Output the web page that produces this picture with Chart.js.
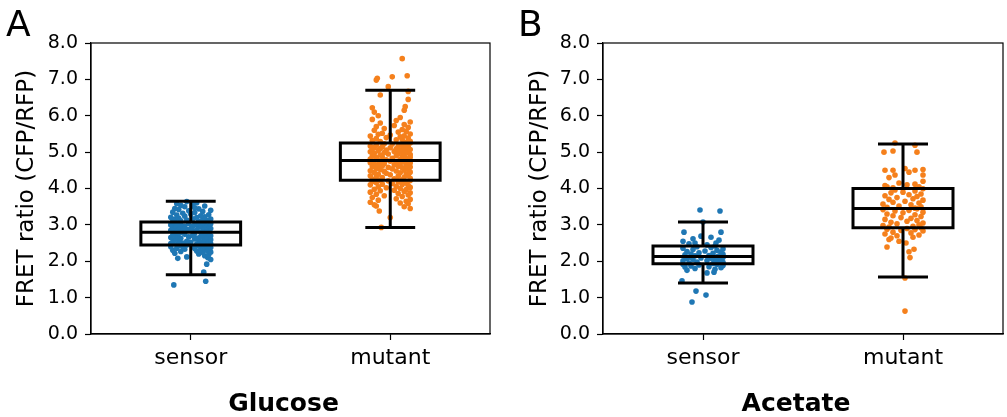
<!DOCTYPE html>
<html><head><meta charset="utf-8">
<script src="https://cdn.jsdelivr.net/npm/chart.js@4"></script>
<style>
html,body{margin:0;padding:0;background:#fff;}
body{width:1007px;height:417px;position:relative;overflow:hidden;}
canvas{position:absolute;top:0;}
#ca{left:0;} #cb{left:500px;}
</style></head>
<body>
<canvas id="ca" width="500" height="417"></canvas>
<canvas id="cb" width="507" height="417"></canvas>
<script>
// ---- data ----
const categories = ['sensor', 'mutant'];
const yTicks = [0,1,2,3,4,5,6,7,8];

// box stats: [lower whisker, Q1, median, Q3, upper whisker]
const glucoseSensorBox = [1.63, 2.45, 2.80, 3.08, 3.65];
const glucoseMutantBox = [2.93, 4.23, 4.77, 5.25, 6.70];
const acetateSensorBox = [1.40, 1.93, 2.13, 2.42, 3.08];
const acetateMutantBox = [1.57, 2.92, 3.45, 4.00, 5.22];

const glucoseSensorY = [1.35,1.45,1.7,1.92,2.08,2.1,2.05,2.12,2.15,2.18,2.2,2.22,2.24,2.25,2.27,2.28,2.3,2.3,2.32,2.33,2.34,2.35,2.36,2.37,2.38,2.39,2.4,2.4,2.41,2.42,2.43,2.43,2.44,2.45,2.45,
2.46,2.47,2.48,2.49,2.5,2.5,2.51,2.52,2.53,2.54,2.55,2.56,2.57,2.58,2.59,2.6,2.61,2.62,2.63,2.64,2.65,2.66,2.67,2.68,2.69,2.7,2.71,2.72,2.73,2.74,2.75,2.76,2.77,2.78,2.79,
2.8,2.81,2.82,2.82,2.83,2.84,2.85,2.86,2.87,2.88,2.89,2.9,2.9,2.91,2.92,2.93,2.94,2.95,2.95,2.96,2.97,2.98,2.98,2.99,3.0,3.0,3.01,3.02,3.03,3.04,3.04,3.05,3.06,3.07,3.08,
3.09,3.1,3.11,3.12,3.13,3.14,3.15,3.16,3.17,3.18,3.2,3.21,3.22,3.24,3.25,3.27,3.28,3.3,3.32,3.34,3.35,3.37,3.39,3.4,3.42,3.44,3.45,3.47,3.5,3.52,3.54,3.56,3.58,3.61,3.64];
const glucoseSensorJitter = [-0.085,0.075,0.065,0.08,-0.065,0.085,0.1,-0.02,0.07,0.09,0.04,-0.08,0.06,0.1,-0.05,0.03,0.08,-0.09,0.05,-0.03,0.09,0.02,-0.07,0.06,0.1,-0.04,0.07,-0.1,0.01,0.08,-0.06,0.04,0.09,-0.02,0.06,
-0.07,0.03,0.1,-0.1,0.05,-0.04,0.08,0.0,-0.09,0.06,-0.02,0.09,-0.06,0.04,0.1,-0.08,0.02,0.07,-0.05,0.03,-0.1,0.08,-0.01,0.05,-0.07,0.1,0.01,-0.09,0.06,-0.03,0.09,-0.06,0.02,0.07,-0.04,
0.05,-0.08,0.02,0.09,-0.05,0.07,-0.1,0.03,-0.02,0.08,-0.07,0.1,0.0,-0.04,0.06,-0.09,0.04,0.08,-0.06,0.01,-0.03,0.09,-0.08,0.05,0.02,-0.1,0.07,-0.05,0.1,-0.01,0.03,-0.07,0.06,-0.09,0.04,
-0.09,0.04,-0.05,0.08,-0.02,0.06,-0.08,0.1,0.01,-0.06,0.03,-0.1,0.07,-0.03,0.05,-0.07,0.09,0.0,-0.04,0.02,-0.09,0.06,-0.01,0.1,-0.06,0.04,-0.08,0.02,-0.03,0.07,-0.05,0.01,-0.07,0.03,-0.02];

const glucoseMutantY = [2.93,3.2,3.38,3.45,3.5,3.55,3.58,3.6,3.62,3.65,3.68,3.7,3.72,3.75,3.78,3.8,3.82,3.84,3.86,3.88,3.9,3.92,3.94,3.95,3.97,3.98,4.0,4.02,4.03,4.05,4.06,4.08,4.1,4.11,4.12,4.14,4.15,4.16,4.18,4.19,4.2,4.21,4.22,4.23,3.52,
4.24,4.25,4.27,4.28,4.3,4.31,4.32,4.34,4.35,4.36,4.38,4.39,4.4,4.42,4.43,4.44,4.45,4.47,4.48,4.49,4.5,4.52,4.53,4.54,4.55,4.57,4.58,4.59,4.6,4.61,4.62,4.63,4.64,4.65,4.66,4.67,4.68,4.69,4.7,4.71,4.72,4.73,4.74,4.75,4.76,
4.77,4.78,4.79,4.8,4.81,4.82,4.83,4.85,4.86,4.87,4.88,4.89,4.9,4.91,4.92,4.93,4.95,4.96,4.97,4.98,4.99,5.0,5.01,5.02,5.03,5.04,5.05,5.06,5.07,5.08,5.09,5.1,5.11,5.12,5.13,5.14,5.15,5.16,5.17,5.18,5.19,5.2,5.22,5.23,5.25,
5.27,5.29,5.3,5.32,5.34,5.35,5.37,5.39,5.4,5.42,5.44,5.45,5.47,5.49,5.5,5.52,5.55,5.57,5.6,5.62,5.65,5.68,5.7,5.73,5.76,5.8,5.83,5.87,5.9,5.95,6.0,
6.1,6.15,6.22,6.25,6.45,6.57,6.67,6.8,6.98,7.03,7.07,7.1,7.57];
const glucoseMutantJitter = [-0.045,0.0,-0.055,0.1,0.07,-0.08,0.09,0.05,-0.1,0.08,-0.06,0.1,0.03,-0.09,0.06,-0.03,0.09,-0.07,0.04,0.1,-0.1,0.07,-0.05,0.02,0.08,-0.08,0.05,-0.02,0.1,-0.06,0.03,0.09,-0.1,0.06,-0.04,0.01,0.08,-0.07,0.04,-0.09,0.07,-0.01,0.1,-0.05,-0.07,
0.06,-0.09,0.02,0.1,-0.04,0.07,-0.07,0.04,-0.1,0.09,0.0,-0.06,0.08,-0.02,0.05,-0.08,0.1,-0.03,0.03,-0.1,0.07,-0.05,0.09,0.01,-0.07,0.06,-0.01,0.1,-0.09,0.04,-0.04,0.08,-0.06,0.02,0.09,-0.08,0.05,-0.03,0.1,-0.1,0.03,0.07,-0.05,0.0,0.06,
-0.06,0.09,-0.02,0.05,-0.1,0.08,0.01,-0.07,0.1,-0.04,0.06,-0.09,0.03,0.07,-0.05,0.1,-0.01,0.04,-0.08,0.09,-0.03,0.06,-0.1,0.02,0.08,-0.06,0.05,-0.02,0.1,-0.09,0.03,-0.05,0.07,0.0,-0.08,0.09,-0.04,0.04,-0.1,0.06,-0.07,0.08,0.01,-0.03,0.1,
0.08,-0.05,0.1,-0.09,0.03,0.06,-0.07,0.09,-0.02,0.05,-0.1,0.07,0.0,-0.06,0.1,-0.04,0.04,0.08,-0.08,0.06,-0.03,0.09,-0.07,0.02,0.07,-0.05,0.1,0.03,-0.09,0.05,-0.06,
-0.08,0.07,-0.09,0.075,0.09,-0.05,0.09,-0.01,-0.07,-0.065,0.01,0.085,0.06];

const acetateSensorY = [1.75,1.78,1.8,1.82,1.84,1.85,1.87,1.88,1.9,1.91,1.92,1.46,1.18,1.07,0.88,1.68,1.7,
1.94,1.95,1.97,1.98,2.0,2.01,2.02,2.03,2.05,2.06,2.07,2.08,2.09,2.1,2.11,2.12,2.13,
2.14,2.15,2.16,2.18,2.19,2.2,2.22,2.23,2.25,2.27,2.28,2.3,2.32,2.34,2.36,2.38,2.4,2.42,
2.45,2.48,2.5,2.5,2.55,2.58,2.62,2.66,2.69,2.8,2.8,3.08,3.38,3.41];
const acetateSensorJitter = [-0.08,0.06,-0.04,0.09,-0.09,0.03,-0.06,0.1,-0.02,0.07,-0.1,-0.105,-0.035,0.015,-0.055,0.02,0.055,
0.05,-0.07,0.1,-0.03,0.08,-0.1,0.02,0.06,-0.05,0.09,-0.08,0.04,-0.01,0.1,-0.06,0.07,-0.09,
0.08,-0.04,0.03,-0.09,0.1,-0.06,0.05,-0.02,0.09,-0.08,0.01,0.07,-0.05,0.1,-0.1,0.04,-0.03,0.06,
0.02,-0.07,0.065,-0.04,-0.1,0.08,-0.05,0.04,-0.01,-0.095,0.09,0.0,0.085,-0.015];

const acetateMutantY = [0.63,1.54,2.1,2.26,2.33,2.39,2.5,2.55,2.6,2.64,2.66,2.7,2.72,2.75,2.78,2.8,2.83,2.85,2.87,2.88,2.9,2.92,
2.94,2.96,2.98,3.0,3.03,3.05,3.07,3.1,3.12,3.15,3.18,3.2,3.23,3.25,3.28,3.3,3.33,3.35,3.38,3.4,3.42,3.44,
3.46,3.48,3.5,3.52,3.55,3.57,3.6,3.62,3.65,3.68,3.7,3.72,3.75,3.78,3.8,3.83,3.85,3.88,3.9,3.93,3.96,3.99,
4.02,4.05,4.08,4.1,4.12,4.15,4.2,4.3,4.37,4.37,4.45,4.5,4.5,4.5,4.52,4.55,5.0,5.0,5.03,5.19,5.25,4.05];
const acetateMutantJitter = [0.01,0.01,0.035,0.03,0.055,-0.08,0.015,-0.02,-0.07,-0.06,0.05,-0.03,0.08,-0.09,0.04,-0.05,0.1,-0.01,0.06,-0.08,0.02,0.09,
-0.07,0.05,-0.1,0.08,-0.03,0.1,-0.06,0.02,0.07,-0.09,0.04,-0.01,0.09,-0.05,0.06,-0.08,0.0,0.1,-0.04,0.03,-0.1,0.07,
0.06,-0.08,0.09,-0.02,0.04,-0.1,0.08,-0.05,0.01,0.1,-0.07,0.05,-0.03,0.07,-0.09,0.03,0.09,-0.06,0.0,0.06,-0.04,0.1,
-0.05,0.08,-0.09,0.02,0.06,-0.02,0.1,-0.07,-0.04,0.1,0.03,-0.09,-0.05,0.06,0.1,0.01,-0.095,0.07,-0.05,0.06,-0.04,-0.08];

// ---- drawing ----
Chart.defaults.font.family = "'DejaVu Sans', sans-serif";
Chart.defaults.color = '#000';
const BLUE = '#1f77b4', ORANGE = '#f5801c';

function pts(ys, js, c) { return ys.map((y, i) => ({ x: c + js[i], y: y })); }

function makePanel(id, o) {
  const boxPlugin = {
    id: 'box' + id,
    afterDatasetsDraw(chart) {
      const ctx = chart.ctx, xs = chart.scales.x, ys = chart.scales.y, a = chart.chartArea;
      ctx.save();
      [o.sBox, o.mBox].forEach((st, i) => {
        const xc = xs.getPixelForValue(i);
        const bw = xs.getPixelForValue(i + 0.25) - xc;
        const cw = xs.getPixelForValue(i + 0.125) - xc;
        const p = st.map(v => ys.getPixelForValue(v));
        ctx.strokeStyle = '#000'; ctx.lineWidth = 3; ctx.lineCap = 'butt';
        ctx.beginPath();
        ctx.rect(xc - bw, p[3], 2 * bw, p[1] - p[3]);
        ctx.moveTo(xc - bw, p[2]); ctx.lineTo(xc + bw, p[2]);
        ctx.moveTo(xc, p[3]); ctx.lineTo(xc, p[4]);
        ctx.moveTo(xc, p[1]); ctx.lineTo(xc, p[0]);
        ctx.moveTo(xc - cw, p[4]); ctx.lineTo(xc + cw, p[4]);
        ctx.moveTo(xc - cw, p[0]); ctx.lineTo(xc + cw, p[0]);
        ctx.stroke();
      });
      ctx.lineWidth = 1.2;
      ctx.strokeRect(a.left, a.top, a.right - a.left, a.bottom - a.top);
      ctx.fillStyle = '#000';
      ctx.textBaseline = 'alphabetic';
      ctx.font = "36px 'DejaVu Sans'";
      ctx.textAlign = 'left';
      ctx.fillText(o.letter, o.letterX, 36);
      // x-axis title (figure-level label, slightly left of axes centre)
      ctx.font = "bold 25px 'DejaVu Sans'";
      ctx.textAlign = 'center';
      ctx.fillText(o.xTitle, (a.left + a.right) / 2 - 7, 411);
      ctx.restore();
    }
  };
  return new Chart(document.getElementById(id), {
    type: 'scatter',
    data: {
      datasets: [
        { data: pts(o.sY, o.sJ, 0), backgroundColor: BLUE, borderWidth: 0, pointRadius: 2.8 },
        { data: pts(o.mY, o.mJ, 1), backgroundColor: ORANGE, borderWidth: 0, pointRadius: 2.8 }
      ]
    },
    options: {
      responsive: false, animation: false,
      layout: { padding: { top: 43, right: o.padR, left: 0, bottom: 0 } },
      plugins: { legend: { display: false }, tooltip: { enabled: false } },
      scales: {
        x: {
          type: 'linear', min: -0.5, max: 1.5,
          afterBuildTicks: s => { s.ticks = categories.map((c, i) => ({ value: i })); },
          afterFit: s => { s.height = 83; },
          ticks: { callback: v => categories[v], font: { size: 22 }, padding: 5, autoSkip: false, maxRotation: 0 },
          grid: { display: true, drawOnChartArea: false, drawTicks: true, tickLength: 6, tickColor: '#000', tickWidth: 1.2 },
          border: { display: true, color: '#000', width: 1.2 }
        },
        y: {
          min: 0, max: 8,
          afterBuildTicks: s => { s.ticks = yTicks.map(v => ({ value: v })); },
          afterFit: s => { s.width = o.yW; },
          ticks: { callback: v => Number(v).toFixed(1), font: { size: 19 }, padding: 7 },
          grid: { display: true, drawOnChartArea: false, drawTicks: true, tickLength: 6, tickColor: '#000', tickWidth: 1.2 },
          border: { display: true, color: '#000', width: 1.2 },
          title: { display: true, text: 'FRET ratio (CFP/RFP)', font: { size: 23 }, padding: { top: o.yTitlePad, bottom: 0 } }
        }
      }
    },
    plugins: [boxPlugin]
  });
}

makePanel('ca', { letter: 'A', letterX: 6, xTitle: 'Glucose', yW: 91, padR: 10, yTitlePad: 13,
  sY: glucoseSensorY, sJ: glucoseSensorJitter, mY: glucoseMutantY, mJ: glucoseMutantJitter,
  sBox: glucoseSensorBox, mBox: glucoseMutantBox });
makePanel('cb', { letter: 'B', letterX: 18, xTitle: 'Acetate', yW: 103, padR: 4, yTitlePad: 26,
  sY: acetateSensorY, sJ: acetateSensorJitter, mY: acetateMutantY, mJ: acetateMutantJitter,
  sBox: acetateSensorBox, mBox: acetateMutantBox });
</script>
</body></html>
